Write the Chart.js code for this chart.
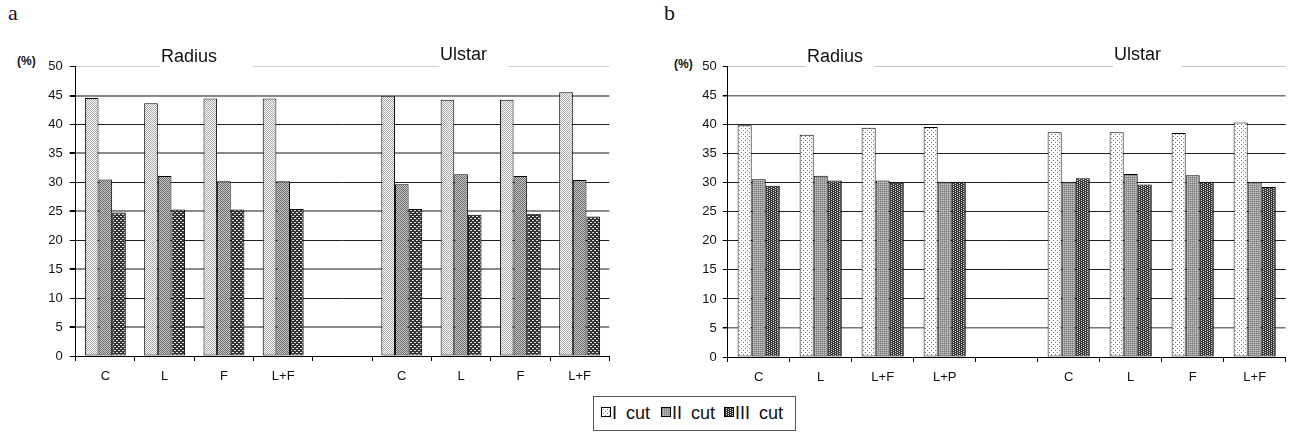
<!DOCTYPE html>
<html><head><meta charset="utf-8">
<script src="https://cdn.jsdelivr.net/npm/chart.js@4.4.1/dist/chart.umd.min.js"></script>
<style>
html,body{margin:0;padding:0;background:#fff;width:1292px;height:432px;overflow:hidden;font-family:"Liberation Sans",Arial,sans-serif;}
.box{position:absolute;}
.lab{position:absolute;font-family:"Liberation Serif","Times New Roman",serif;font-size:22px;color:#111;line-height:22px;}
.pct{position:absolute;font-weight:bold;font-size:12px;color:#111;line-height:12px;}
#legend{position:absolute;left:593px;top:396px;width:203px;height:35px;border:1px solid #555;box-sizing:border-box;}
.sw{position:absolute;width:10px;height:10px;}
.lt{position:absolute;font-size:18px;line-height:18px;color:#111;word-spacing:4px;white-space:nowrap;}
</style></head><body>
<div class="lab" style="left:8px;top:2px;">a</div>
<div class="lab" style="left:664px;top:2px;">b</div>
<div class="pct" style="left:17px;top:55px;">(%)</div>
<div class="pct" style="left:674px;top:58px;">(%)</div>
<div class="box" style="left:0;top:0;width:640px;height:392px;"><canvas id="chartA"></canvas></div>
<div class="box" style="left:645px;top:0;width:647px;height:393px;"><canvas id="chartB"></canvas></div>
<div id="legend"></div>
<script>
// ---- data ----
const seriesNames = ['I cut', 'II cut', 'III cut'];
const groupTitles = ['Radius', 'Ulstar'];
const yMin = 0, yMax = 50, yStep = 5;

const categoriesA = ['C', 'L', 'F', 'L+F', '', 'C', 'L', 'F', 'L+F'];
const cut1A = [44.6, 43.7, 44.5, 44.5, null, 45.0, 44.3, 44.3, 45.6];
const cut2A = [30.5, 31.1, 30.2, 30.2, null, 29.7, 31.4, 31.1, 30.4];
const cut3A = [24.8, 25.3, 25.3, 25.4, null, 25.4, 24.4, 24.6, 24.1];

const categoriesB = ['C', 'L', 'L+F', 'L+P', '', 'C', 'L', 'F', 'L+F'];
const cut1B = [39.9, 38.3, 39.5, 39.6, null, 38.7, 38.7, 38.6, 40.4];
const cut2B = [30.6, 31.2, 30.4, 30.2, null, 30.2, 31.5, 31.3, 30.2];
const cut3B = [29.5, 30.4, 30.0, 30.2, null, 30.8, 29.7, 30.2, 29.3];

// ---- patterns ----
function makePattern(w, h, bg, dots) {
  const c = document.createElement('canvas'); c.width = w; c.height = h;
  const x = c.getContext('2d');
  x.fillStyle = bg; x.fillRect(0, 0, w, h);
  dots.forEach(d => { x.fillStyle = d[2]; x.fillRect(d[0], d[1], d[3] || 1, d[4] || 1); });
  return x.createPattern(c, 'repeat');
}
const patsA = [
  makePattern(2, 2, '#ffffff', [[0, 0, '#a8a8a8'], [1, 1, '#a8a8a8']]),
  makePattern(2, 2, '#6a6a6a', [[1, 0, '#c8c8c8'], [0, 1, '#c8c8c8']]),
  makePattern(4, 4, '#333333', [[0, 0, '#e0e0e0', 2, 1], [2, 2, '#e0e0e0', 2, 1]])
];
const patsB = [
  makePattern(4, 4, '#ffffff', [[0, 0, '#777777'], [2, 2, '#777777']]),
  makePattern(2, 2, '#999999', [[0, 0, '#c8c8c8'], [1, 1, '#808080']]),
  makePattern(4, 2, '#353535', [[0, 0, '#dddddd'], [2, 1, '#dddddd']])
];

const FONT = '"Liberation Sans", Arial, sans-serif';

function titlePlugin(boxes) {
  return {
    id: 'groupTitles',
    afterDraw(chart) {
      const ctx = chart.ctx;
      const y = chart.scales.y.getPixelForValue(yMax);
      ctx.save();
      boxes.forEach((b, i) => {
        ctx.fillStyle = '#fff';
        ctx.fillRect(b.x0, y - 3, b.x1 - b.x0, 6);
        ctx.fillStyle = '#111';
        ctx.font = '18px ' + FONT;
        ctx.textBaseline = 'alphabetic';
        ctx.textAlign = 'left';
        ctx.fillText(groupTitles[i], b.tx, b.by);
      });
      ctx.restore();
    }
  };
}

function buildChart(id, cats, s1, s2, s3, pats, o) {
  return new Chart(document.getElementById(id), {
    type: 'bar',
    data: {
      labels: cats,
      datasets: [s1, s2, s3].map((d, i) => ({
        label: seriesNames[i], data: d, backgroundColor: pats[i],
        borderColor: '#000', borderWidth: 1, borderSkipped: false,
        categoryPercentage: o.catPct, barPercentage: 1
      }))
    },
    options: {
      responsive: true, maintainAspectRatio: false, animation: false, events: [],
      layout: { padding: { top: o.top, left: 0, right: o.right, bottom: 0 } },
      plugins: { legend: { display: false }, tooltip: { enabled: false } },
      scales: {
        x: {
          grid: { display: true, drawOnChartArea: false, drawTicks: true, tickLength: 5, color: '#000', offset: true },
          border: { display: true, color: '#000', width: 1 },
          ticks: { color: '#111', font: { size: 13, family: FONT }, padding: 8, maxRotation: 0, autoSkip: false },
          afterFit: s => { s.height = o.xh; }
        },
        y: {
          min: yMin, max: yMax,
          ticks: { stepSize: yStep, color: '#111', font: { size: 13, family: FONT }, padding: o.tpad },
          grid: {
            color: c => o.gridColor(c.tick ? c.tick.value : 0),
            lineWidth: c => o.gridWidth(c.tick ? c.tick.value : 0),
            tickColor: '#000', tickLength: o.tl
          },
          border: { display: true, color: '#000', width: 1 },
          afterFit: s => { s.width = o.yw; }
        }
      }
    },
    plugins: [titlePlugin(o.titles)]
  });
}

buildChart('chartA', categoriesA, cut1A, cut2A, cut3A, patsA, {
  catPct: 0.69, top: 66.7, right: 30.7, xh: 36, yw: 75.7, tpad: 7, tl: 6,
  gridColor: v => v === 50 ? '#cfcfcf' : (v % 10 === 5 ? '#8a8a8a' : '#222'),
  gridWidth: v => (v % 10 === 5 && v !== 50) ? 2 : 1,
  titles: [{ x0: 160, x1: 253, tx: 161, by: 62 }, { x0: 439, x1: 508, tx: 440, by: 60 }]
});
buildChart('chartB', categoriesB, cut1B, cut2B, cut3B, patsB, {
  catPct: 0.68, top: 66.7, right: 6.3, xh: 36, yw: 82.7, tpad: 6, tl: 5,
  gridColor: v => v === 50 ? '#c4c4c4' : ((v === 45 || v === 5) ? '#777' : '#222'),
  gridWidth: v => (v === 45 || v === 5) ? 1.5 : 1,
  titles: [{ x0: 161, x1: 230, tx: 162, by: 61.5 }, { x0: 468, x1: 537, tx: 469, by: 60 }]
});

// ---- shared legend ----
const legend = document.getElementById('legend');
const swX = [7, 67, 130];
const txX = [18, 78, 141];
seriesNames.forEach((name, i) => {
  const c = document.createElement('canvas');
  c.width = 10; c.height = 10; c.className = 'sw';
  c.style.left = swX[i] + 'px'; c.style.top = '10px';
  const x = c.getContext('2d');
  x.fillStyle = patsB[i]; x.fillRect(0, 0, 10, 10);
  x.strokeStyle = '#000'; x.lineWidth = 1; x.strokeRect(0.5, 0.5, 9, 9);
  legend.appendChild(c);
  const t = document.createElement('div');
  t.className = 'lt'; t.textContent = name;
  t.style.left = txX[i] + 'px'; t.style.top = '7px';
  legend.appendChild(t);
});
</script>
</body></html>
